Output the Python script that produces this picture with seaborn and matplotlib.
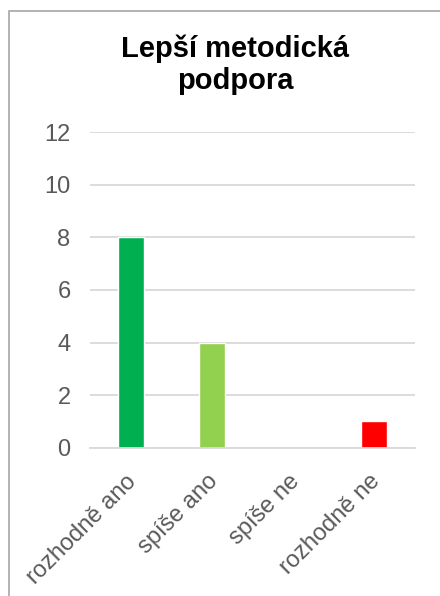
import matplotlib
matplotlib.use("Agg")
import matplotlib.pyplot as plt
import matplotlib.patches as mpatches
import matplotlib.transforms as mtransforms
import seaborn as sns
import pandas as pd

categories = ["rozhodně ano", "spíše ano", "spíše ne", "rozhodně ne"]
counts = [8, 4, 0, 1]
bar_colors = ["#00B050", "#92D050", "#FFC000", "#FF0000"]
y_ticks = [0, 2, 4, 6, 8, 10, 12]
title_lines = ["Lepší metodická", "podpora"]

sns.set_theme(style="white")
plt.rcParams["font.family"] = ["Liberation Sans", "DejaVu Sans"]

df = pd.DataFrame({"kategorie": categories, "pocet": counts})

fig = plt.figure(figsize=(4.40, 5.96), dpi=100)
ax = fig.add_axes([90 / 440, 1 - 447.7 / 596, 325 / 440, (447.7 - 132.3) / 596])

sns.barplot(data=df, x="kategorie", y="pocet", hue="kategorie",
            palette=dict(zip(categories, bar_colors)), width=0.32,
            legend=False, ax=ax, saturation=1)

ax.set_ylim(0, 12)
ax.set_yticks(y_ticks)
ax.set_xlim(-0.5, len(categories) - 0.5)
ax.yaxis.grid(True, color="#D9D9D9", linewidth=1.3)
ax.set_axisbelow(True)
for side in ["left", "right", "top"]:
    ax.spines[side].set_visible(False)
ax.spines["bottom"].set_color("#D9D9D9")
ax.spines["bottom"].set_linewidth(1.3)
ax.set_xlabel("")
ax.set_ylabel("")
ax.tick_params(axis="y", length=0, pad=14, labelsize=17, labelcolor="#595959")
ax.tick_params(axis="x", length=0, pad=12, labelsize=17, labelcolor="#595959")
shift = mtransforms.ScaledTranslation(-0.05, -0.06, fig.dpi_scale_trans)
for lbl in ax.get_xticklabels():
    lbl.set_rotation(45)
    lbl.set_ha("right")
    lbl.set_va("top")
    lbl.set_rotation_mode("anchor")
    lbl.set_transform(lbl.get_transform() + shift)

# chart frame
fig.patches.append(mpatches.Rectangle((9 / 440, -0.1), 1.2, 1 - 11 / 596 + 0.1,
                                      transform=fig.transFigure, fill=False,
                                      edgecolor="#A6A6A6", linewidth=1.2))

fig.text(235 / 440, 1 - 57 / 596, title_lines[0], ha="center", va="baseline",
         fontsize=21, fontweight="bold", color="black")
fig.text(235 / 440, 1 - 89 / 596, title_lines[1], ha="center", va="baseline",
         fontsize=21, fontweight="bold", color="black")

fig.savefig("out.png", dpi=100, facecolor="white")
